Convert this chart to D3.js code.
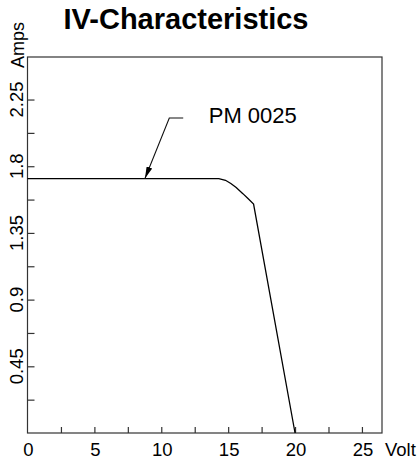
<!DOCTYPE html>
<html>
<head>
<meta charset="utf-8">
<script src="https://cdn.jsdelivr.net/npm/d3@7"></script>
<style>
  body { margin: 0; background: #fff; }
  svg { display: block; font-family: "Liberation Sans", Arial, sans-serif; }
</style>
</head>
<body>
<svg id="chart" width="419" height="460"></svg>
<script>
// IV curve of the module
const volts = [0, 13.8, 14.3, 14.8, 15.2, 15.6, 16.1, 16.5, 16.9, 20.0];
const amps = [1.717, 1.717, 1.716, 1.705, 1.683, 1.656, 1.615, 1.58, 1.545, 0];

const xTicks = [0, 5, 10, 15, 20, 25];
const xMinorTicks = [2.5, 5, 7.5, 10, 12.5, 15, 17.5, 20, 22.5, 25];
const yTicks = [0.45, 0.9, 1.35, 1.8, 2.25];
const yMinorTicks = [0.225, 0.45, 0.675, 0.9, 1.125, 1.35, 1.575, 1.8, 2.025, 2.25];

const seriesName = "PM 0025";
// annotation: arrow tip on curve, elbow, end of shoulder, label anchor (V, A)
const notePoints = [[8.78, 1.717], [10.6, 2.125], [11.64, 2.125]];
const noteLabelAt = [13.55, 2.09];

const width = 419,
  height = 460,
  margin = { top: 57, right: 37, bottom: 27, left: 27.5 };

const svg = d3.select("#chart");

const x = d3.scaleLinear()
  .domain([0, 26.5])
  .range([margin.left, width - margin.right]);
const y = d3.scaleLinear()
  .domain([0, 2.537])
  .range([height - margin.bottom, margin.top]);

const axisColor = "#333";

// frame
svg.append("rect")
  .attr("x", x(0))
  .attr("y", y(2.537))
  .attr("width", x(26.5) - x(0))
  .attr("height", y(0) - y(2.537))
  .attr("fill", "none")
  .attr("stroke", axisColor)
  .attr("stroke-width", 1.2);

// ticks point inward
const xAxis = svg.append("g")
  .attr("transform", `translate(0,${y(0)})`)
  .call(d3.axisTop(x).tickValues(xMinorTicks).tickSize(6).tickFormat(""));
xAxis.select(".domain").remove();
xAxis.selectAll("line").attr("stroke", axisColor).attr("stroke-width", 1.2);

svg.append("g")
  .selectAll("text")
  .data(xTicks)
  .join("text")
  .attr("x", (d) => x(d) + 1)
  .attr("y", y(0) + 23)
  .attr("text-anchor", "middle")
  .style("font-size", "18.5px")
  .text((d) => d);

svg.append("text")
  .attr("x", x(25) + 23)
  .attr("y", y(0) + 23)
  .style("font-size", "18.5px")
  .text("Volt");

const yAxis = svg.append("g")
  .attr("transform", `translate(${x(0)},0)`)
  .call(d3.axisRight(y).tickValues(yMinorTicks).tickSize(7).tickFormat(""));
yAxis.select(".domain").remove();
yAxis.selectAll("line").attr("stroke", axisColor).attr("stroke-width", 1.2);

svg.append("g")
  .selectAll("text")
  .data(yTicks)
  .join("text")
  .attr("transform", (d) => `translate(${x(0) - 5},${y(d)}) rotate(-90)`)
  .attr("text-anchor", "middle")
  .style("font-size", "18.5px")
  .text((d) => d);

svg.append("text")
  .attr("transform", `translate(${x(0) - 4},${y(2.537) + 11}) rotate(-90)`)
  .attr("text-anchor", "start")
  .style("font-size", "18px")
  .text("Amps");

// title
svg.append("text")
  .attr("x", 186)
  .attr("y", 29)
  .attr("text-anchor", "middle")
  .style("font-size", "29px")
  .style("font-weight", "bold")
  .text("IV-Characteristics");

// curve
const line = d3.line()
  .x((d, i) => x(volts[i]))
  .y((d, i) => y(amps[i]));

svg.append("path")
  .datum(volts)
  .attr("d", line)
  .attr("fill", "none")
  .attr("stroke", "#000")
  .attr("stroke-width", 1.3);

// annotation
svg.append("defs")
  .append("marker")
  .attr("id", "arrow")
  .attr("viewBox", "0 0 12 6")
  .attr("refX", 12)
  .attr("refY", 3)
  .attr("markerWidth", 12)
  .attr("markerHeight", 6)
  .attr("markerUnits", "userSpaceOnUse")
  .attr("orient", "auto-start-reverse")
  .append("path")
  .attr("d", "M0,0 L12,3 L0,6 Z")
  .attr("fill", "#000");

svg.append("path")
  .datum(notePoints)
  .attr("d", d3.line().x((d) => x(d[0])).y((d) => y(d[1])))
  .attr("fill", "none")
  .attr("stroke", "#111")
  .attr("stroke-width", 1.1)
  .attr("marker-start", "url(#arrow)");

svg.append("text")
  .attr("x", x(noteLabelAt[0]))
  .attr("y", y(noteLabelAt[1]))
  .style("font-size", "22px")
  .text(seriesName);
</script>
</body>
</html>
